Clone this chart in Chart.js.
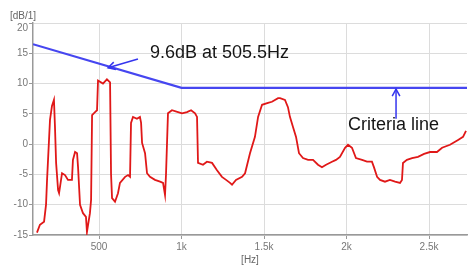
<!DOCTYPE html>
<html>
<head>
<meta charset="utf-8">
<script src="https://cdn.jsdelivr.net/npm/chart.js@4/dist/chart.umd.min.js"></script>
<style>
html,body{margin:0;padding:0;background:#fff;}
#wrap{width:468px;height:266px;position:relative;}
</style>
</head>
<body>
<div id="wrap"><canvas id="c" width="468" height="266"></canvas></div>
<script>
// Measured spectrum (Hz, dB)
const measuredHz = [124,142,167,179,185,203,215,227,233,240,252,258,276,294,312,336,342,355,367,373,385,403,421,427,445,452,458,476,488,494,524,548,567,573,579,597,615,627,658,676,688,694,706,730,748,755,761,779,791,809,839,870,888,900,906,918,942,979,1003,1033,1058,1082,1094,1100,1130,1154,1185,1215,1245,1270,1294,1306,1330,1367,1385,1415,1445,1464,1488,1524,1548,1585,1597,1627,1645,1657,1676,1694,1712,1736,1767,1797,1827,1851,1876,1912,1936,1960,1991,2009,2033,2057,2094,2124,2154,2166,2185,2203,2233,2263,2294,2324,2336,2342,2366,2397,2433,2470,2506,2548,2579,2627,2676,2706,2724];
const measuredDb = [-14.6,-13.3,-12.8,-10,-6,4,6.3,7.3,3,-3.1,-7.6,-8.1,-4.8,-5.1,-5.9,-5.9,-2.6,-1.3,-1.5,-3.8,-10,-11.4,-12,-14.5,-11.4,-9.2,4.8,5.3,5.6,10.5,10,10.7,10.2,-5,-8.9,-9.5,-8.1,-6.4,-5.4,-5.1,-5.4,3.5,4.5,4.2,4.5,3.5,0.2,-1.5,-4.8,-5.4,-5.9,-6.2,-6.4,-8.4,-5,5.1,5.6,5.3,5.1,5.3,5.6,5.1,4.5,-3.1,-3.4,-2.9,-3.1,-4.3,-5.4,-5.9,-6.4,-6.7,-5.9,-5.4,-4.8,-1.5,1.2,4.5,6.5,6.8,7.0,7.6,7.6,7.3,6.1,4.5,2.8,1.2,-1.5,-2.3,-2.6,-2.6,-3.4,-3.8,-3.4,-2.9,-2.6,-2.1,-0.6,-0.1,-0.6,-2.3,-2.6,-2.9,-2.9,-3.8,-5.4,-5.9,-6.2,-5.9,-6.2,-6.4,-5.9,-3.1,-2.6,-2.3,-2.1,-1.6,-1.3,-1.3,-0.6,-0.1,0.7,1.2,2.2];

// Criteria line (Hz, dB)
const criteriaHz = [100,1000,2730];
const criteriaDb = [16.5,9.3,9.3];

// Axis ticks
const xTickValues = [500,1000,1500,2000,2500];
const xTickLabels = ['500','1k','1.5k','2k','2.5k'];
const yTickValues = [-15,-10,-5,0,5,10,15,20];

// Annotations
const annoLabel1 = '9.6dB at 505.5Hz';
const annoLabel2 = 'Criteria line';

const measuredPts = measuredHz.map((x,i)=>({x:x,y:measuredDb[i]}));
const criteriaPts = criteriaHz.map((x,i)=>({x:x,y:criteriaDb[i]}));

function arrow(ctx,x1,y1,x2,y2){
  ctx.beginPath();ctx.moveTo(x1,y1);ctx.lineTo(x2,y2);ctx.stroke();
  const a=Math.atan2(y2-y1,x2-x1), L=8, w=0.5;
  ctx.beginPath();
  ctx.moveTo(x2-L*Math.cos(a-w),y2-L*Math.sin(a-w));
  ctx.lineTo(x2,y2);
  ctx.lineTo(x2-L*Math.cos(a+w),y2-L*Math.sin(a+w));
  ctx.stroke();
}

const annoPlugin = {
  id:'anno',
  afterDraw(chart){
    const ctx=chart.ctx, xs=chart.scales.x, ys=chart.scales.y;
    const px=v=>xs.getPixelForValue(v), py=v=>ys.getPixelForValue(v);
    ctx.save();
    ctx.strokeStyle='#3535ee';ctx.lineWidth=1.5;
    arrow(ctx,px(736),py(14.06),px(555),py(12.6));
    arrow(ctx,px(2300),py(4.2),px(2300),py(9.1));
    ctx.fillStyle='#151515';
    ctx.font='18px "Liberation Sans", Arial, sans-serif';
    ctx.textBaseline='middle';ctx.textAlign='left';
    ctx.fillText(annoLabel1,px(809),py(15.05));
    ctx.fillText(annoLabel2,px(2009),py(3.2));
    ctx.fillStyle='#777';
    ctx.font='10px "Liberation Sans", Arial, sans-serif';
    ctx.textAlign='right';
    ctx.fillText(String(yTickValues[yTickValues.length-1]),28,py(20)+5);
    ctx.fillStyle='#666';
    ctx.textAlign='left';
    ctx.fillText('[dB/1]',10,16);
    ctx.textAlign='center';
    ctx.fillText('[Hz]',(chart.chartArea.left+chart.chartArea.right)/2,260);
    ctx.restore();
  }
};

new Chart(document.getElementById('c'),{
  type:'line',
  data:{datasets:[
    {data:criteriaPts,borderColor:'#4646f0',borderWidth:2.2,pointRadius:0,tension:0,order:2},
    {data:measuredPts,borderColor:'#e01818',borderWidth:1.8,pointRadius:0,tension:0,order:1}
  ]},
  options:{
    responsive:false,animation:false,
    layout:{padding:{top:23,right:1,left:0,bottom:0}},
    plugins:{legend:{display:false},tooltip:{enabled:false}},
    scales:{
      x:{type:'linear',min:100,max:2730,
        afterBuildTicks:s=>{s.ticks=xTickValues.map(v=>({value:v}));},
        afterFit:s=>{s.height=31;},
        ticks:{callback:(v)=>xTickLabels[xTickValues.indexOf(v)],color:'#777',font:{size:10,family:'"Liberation Sans", Arial'},padding:2,maxRotation:0,autoSkip:false},
        grid:{color:'#dcdcdc',lineWidth:1,tickLength:4,tickColor:'#999'},
        border:{color:'#999',width:1.5}
      },
      y:{min:-15,max:20,
        afterBuildTicks:s=>{s.ticks=yTickValues.map(v=>({value:v}));},
        afterFit:s=>{s.width=33;},
        ticks:{callback:(v)=>v===20?'':String(v),color:'#777',font:{size:10,family:'"Liberation Sans", Arial'},padding:1},
        grid:{color:'#dcdcdc',lineWidth:1,tickLength:4,tickColor:'#999'},
        border:{color:'#999',width:1.5}
      }
    }
  },
  plugins:[annoPlugin]
});
</script>
</body>
</html>
